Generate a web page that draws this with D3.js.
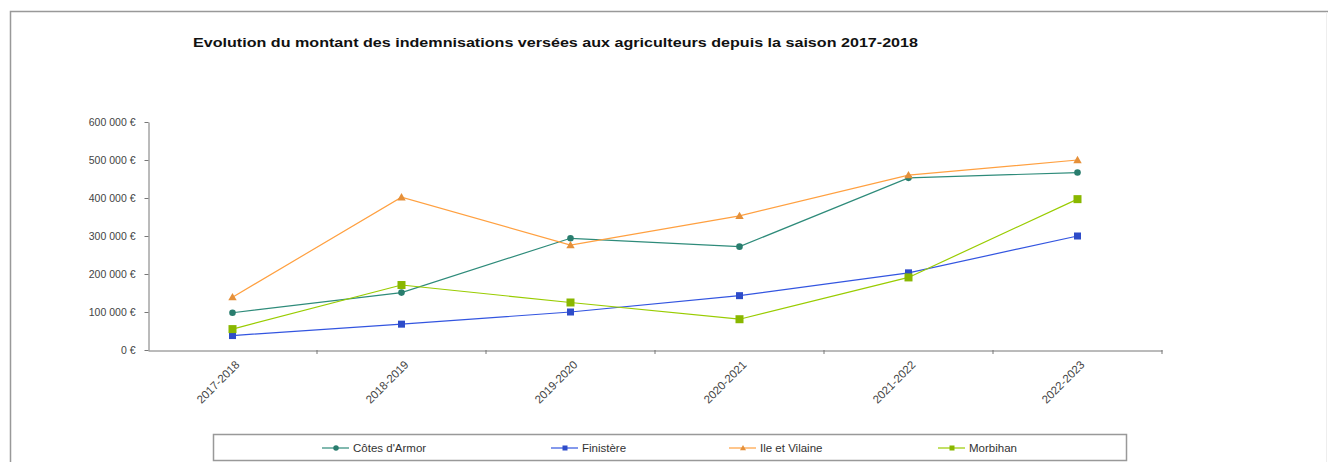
<!DOCTYPE html>
<html><head><meta charset="utf-8">
<script src="https://cdn.jsdelivr.net/npm/d3@7"></script>
<style>body{margin:0;background:#fff;} svg{display:block;}</style>
</head><body>
<svg id="c" width="1328" height="462"></svg>
<script>
const categories = ["2017-2018","2018-2019","2019-2020","2020-2021","2021-2022","2022-2023"];
const seriesNames = ["Côtes d'Armor","Finistère","Ile et Vilaine","Morbihan"];
const cotesArmor = [98000,151000,294000,272000,453000,467000];
const finistere = [38000,68000,100000,143000,203000,300000];
const illeVilaine = [139000,402000,276000,353000,460000,500000];
const morbihan = [55000,171000,125000,81000,191000,397000];
const yTicks = [0,100000,200000,300000,400000,500000,600000];
const colors = ["#2e8b7a","#3355e0","#ffa040","#99cc00"];
const markers = ["circle","square","triangle","square"];
const title = "Evolution du montant des indemnisations versées aux agriculteurs  depuis la saison 2017-2018";

const svg = d3.select("#c");
const font = "Liberation Sans, Arial, sans-serif";
// frame
svg.append("path").attr("d","M10.5,462 V11.5 H1328").attr("fill","none").attr("stroke","#999").attr("stroke-width",1.5);
svg.append("line").attr("x1",1326.5).attr("x2",1326.5).attr("y1",12).attr("y2",462).attr("stroke","#eee");

svg.append("text").attr("x",193).attr("y",47).attr("font-family",font).attr("font-weight","bold")
  .attr("font-size",12.5).attr("fill","#111").attr("textLength",725).attr("lengthAdjust","spacingAndGlyphs").text(title);

const x = d3.scaleBand().domain(categories).range([148,1162]);
const y = d3.scaleLinear().domain([0,600000]).range([350,122]);
const fmt = v => d3.format(",")(v).replace(/,/g," ") + " €";

const gy = svg.append("g").attr("transform","translate(148.5,0)")
  .call(d3.axisLeft(y).tickValues(yTicks).tickSize(4).tickSizeOuter(0).tickFormat(fmt));
gy.select(".domain").attr("stroke","#777");
gy.selectAll(".tick line").attr("stroke","#777");
gy.selectAll("text").attr("font-family",font).attr("font-size",10.5).attr("fill","#444").attr("x",-13);

const gx = svg.append("g").attr("transform","translate(0,350.5)")
  .call(d3.axisBottom(x).tickSize(0).tickSizeOuter(0));
gx.select(".domain").attr("stroke","#777");
gx.selectAll(".tick text").attr("font-family",font).attr("font-size",11.5).attr("fill","#444")
  .attr("text-anchor","end").attr("transform","translate(5,12) rotate(-45)").attr("dy","0.35em").attr("y",0);
// band boundary ticks
svg.append("g").selectAll("line").data(categories).join("line")
  .attr("x1",d=>x(d)+x.bandwidth()).attr("x2",d=>x(d)+x.bandwidth())
  .attr("y1",350).attr("y2",354).attr("stroke","#777");

const allSeries = [cotesArmor,finistere,illeVilaine,morbihan];
const line = d3.line().x((d,i)=>x(categories[i])+x.bandwidth()/2).y(d=>y(d));
function drawMarker(g, type, cx, cy, color, s){
  if(type==="circle") g.append("circle").attr("cx",cx).attr("cy",cy).attr("r",s*0.55).attr("fill",color);
  else if(type==="square") g.append("rect").attr("x",cx-s/2).attr("y",cy-s/2).attr("width",s).attr("height",s).attr("fill",color);
  else g.append("path").attr("d",`M${cx},${cy-s*0.6}L${cx+s*0.6},${cy+s*0.45}L${cx-s*0.6},${cy+s*0.45}Z`).attr("fill",color);
}
const markerSize = [6,7,7,8];
allSeries.forEach((vals,si)=>{
  svg.append("path").datum(vals).attr("d",line).attr("fill","none").attr("stroke",colors[si]).attr("stroke-width",1.2);
  const g = svg.append("g");
  vals.forEach((v,i)=>drawMarker(g,markers[si],x(categories[i])+x.bandwidth()/2,y(v),d3.color(colors[si]).darker(0.3),markerSize[si]));
});

// legend
svg.append("rect").attr("x",213.5).attr("y",434.5).attr("width",913).attr("height",26).attr("fill","none").attr("stroke","#999").attr("stroke-width",1.5);
const legX = [322,551,729,938];
seriesNames.forEach((n,i)=>{
  const g = svg.append("g");
  g.append("line").attr("x1",legX[i]).attr("x2",legX[i]+27).attr("y1",448).attr("y2",448).attr("stroke",colors[i]).attr("stroke-width",1.2);
  drawMarker(g,markers[i],legX[i]+14,448,d3.color(colors[i]).darker(0.3),5);
  g.append("text").attr("x",legX[i]+31).attr("y",452).attr("font-family",font).attr("font-size",11.5).attr("fill","#333").text(n);
});
</script>
</body></html>
